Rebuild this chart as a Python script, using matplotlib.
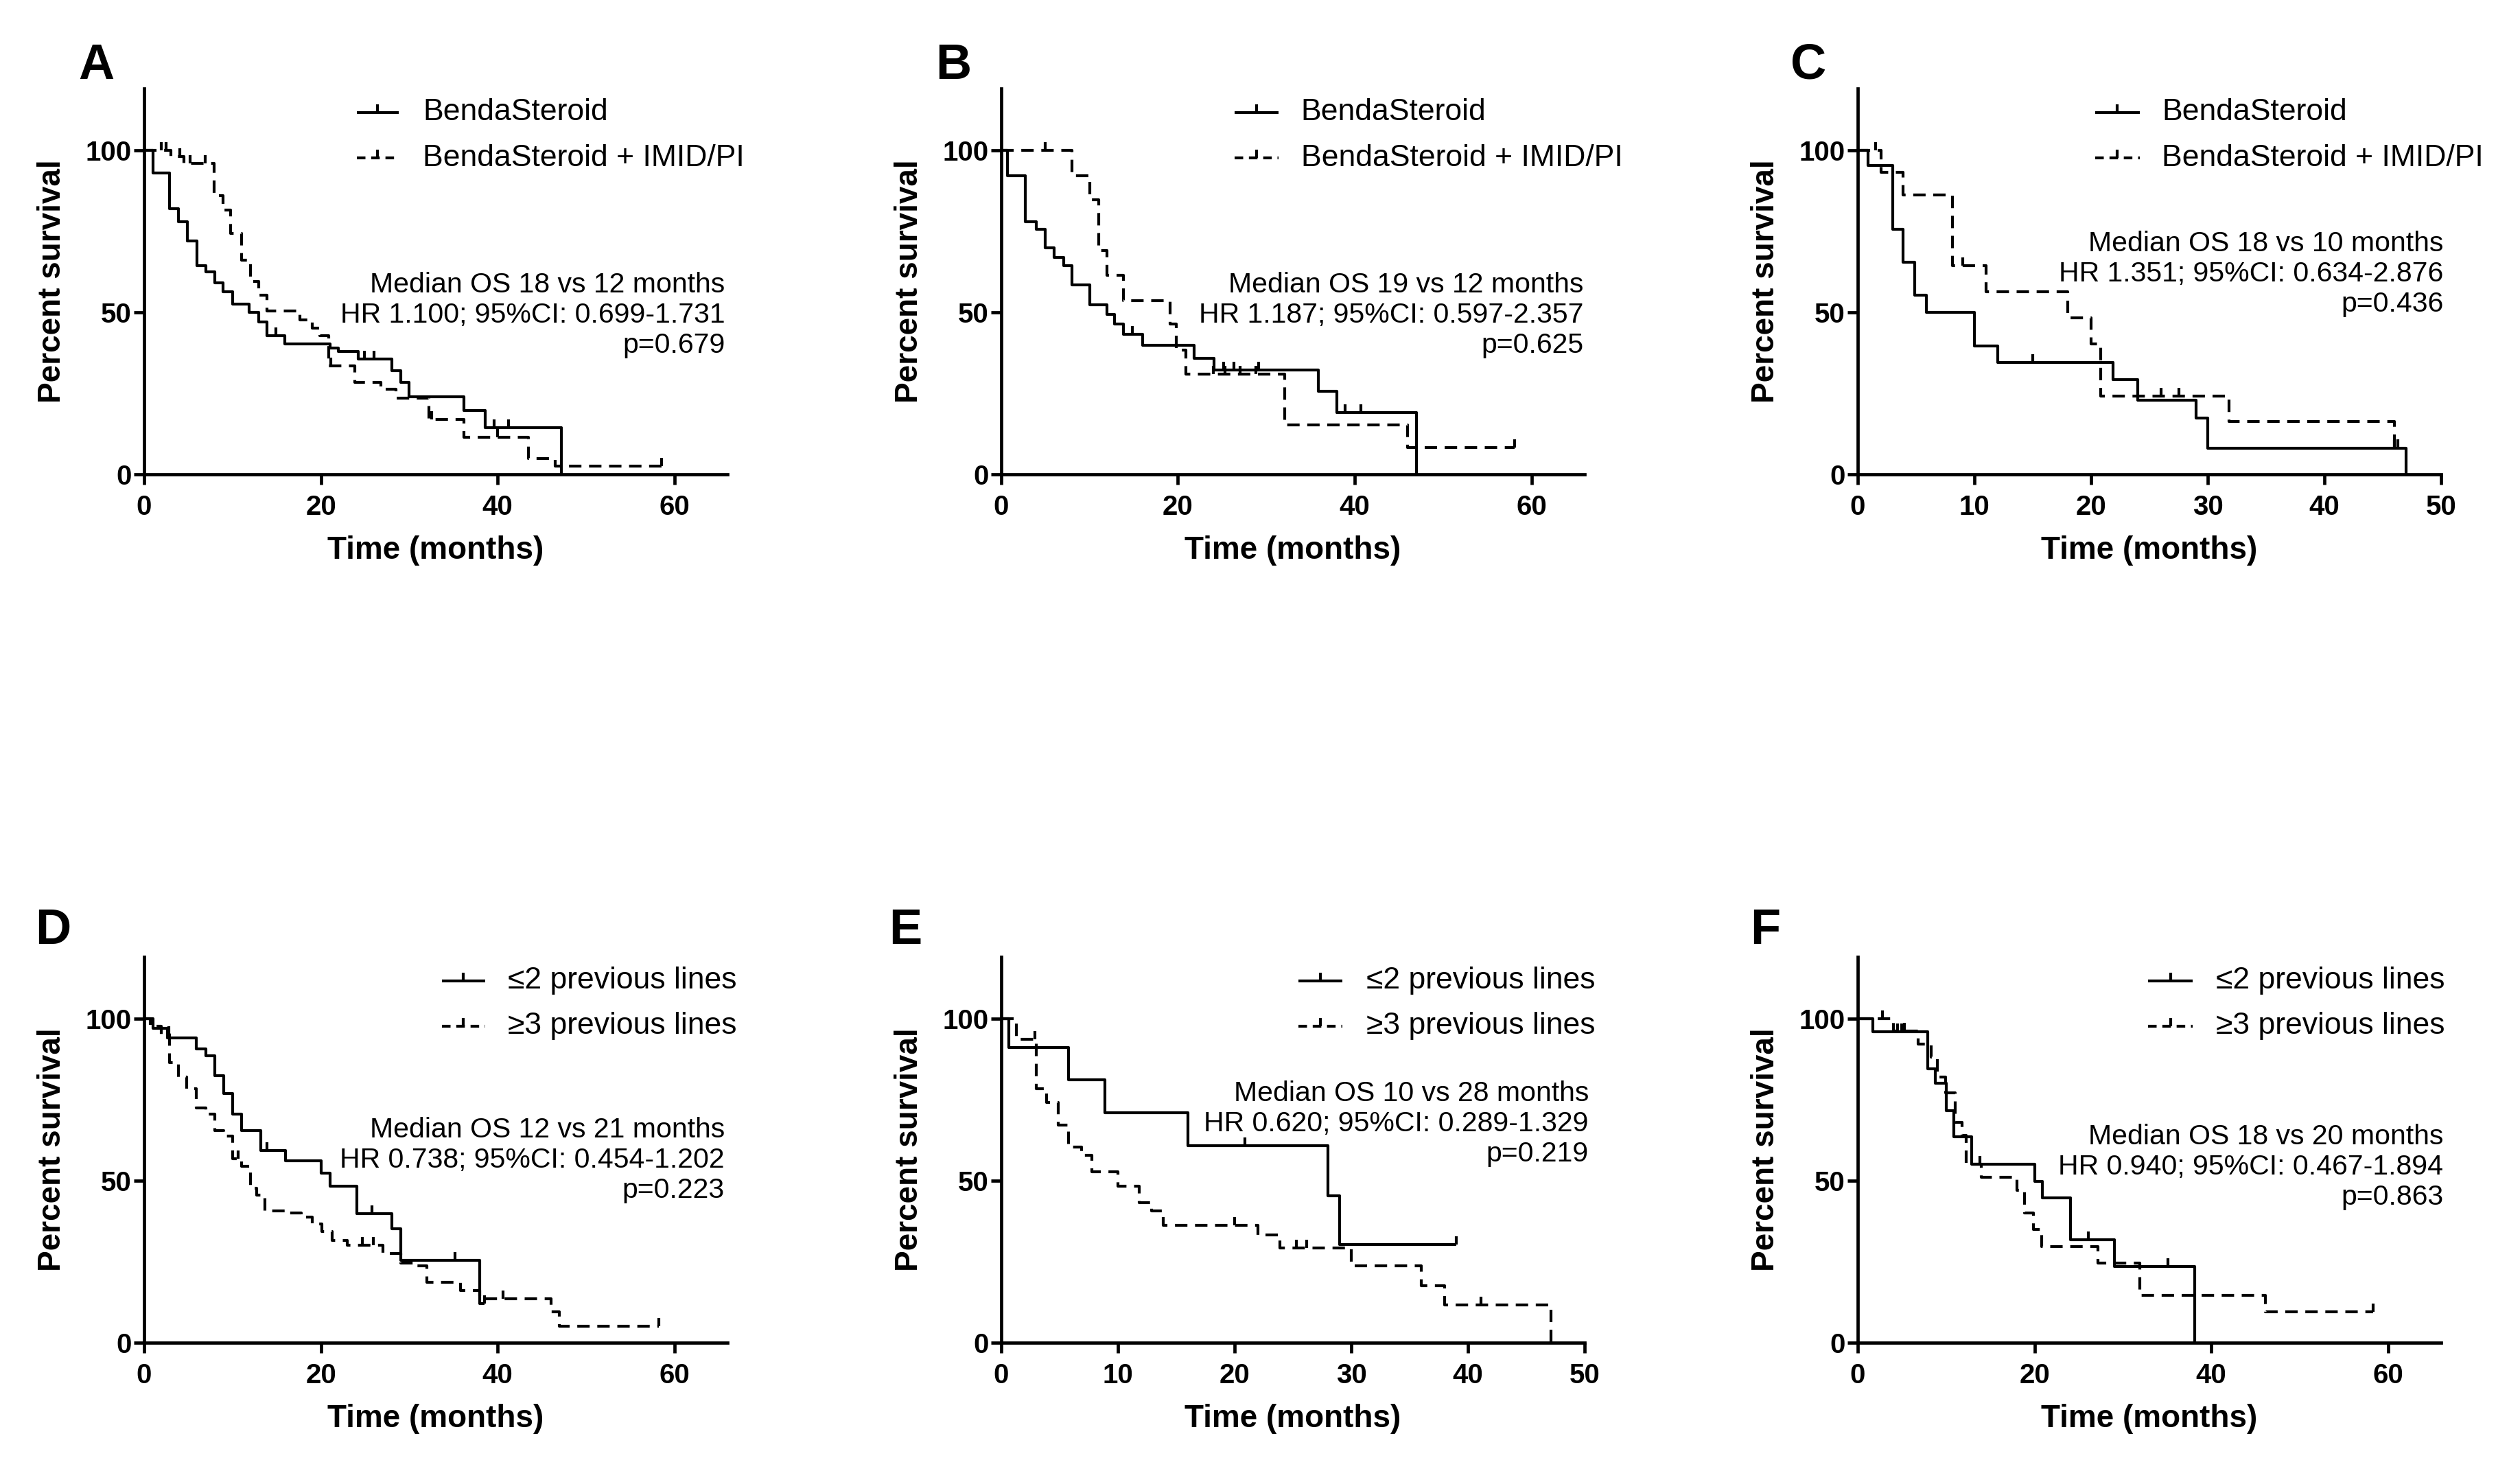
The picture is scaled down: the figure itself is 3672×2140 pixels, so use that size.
import numpy as np
import matplotlib.pyplot as plt
from matplotlib.path import Path

plt.rcParams['font.family'] = ['Liberation Sans', 'DejaVu Sans']
plt.rcParams['lines.scale_dashes'] = False

# --- Kaplan-Meier values (months, percent survival) ---
# A: all patients
a1_t = [1.0, 2.85, 3.9, 4.9, 6.0, 7.0, 8.0, 8.9, 10.0, 11.9, 13.0, 13.9, 15.9, 21.0, 22.0, 24.2, 28.0, 29.0, 30.0, 36.2, 38.6, 47.2]
a1_s = [93, 82, 78, 72, 64.5, 62.4, 59, 56.4, 52.5, 50, 47, 42.7, 40.2, 39, 38, 35.6, 32, 28.5, 24, 19.7, 14.5, 0]
a1_c = [14.9, 24.9, 26.0, 39.6, 41.2]
a1_end = 47.2
a2_t = [3.0, 4.5, 7.9, 8.9, 9.8, 11.0, 12.0, 13.0, 13.9, 17.6, 19.0, 19.9, 20.9, 23.8, 26.8, 28.5, 32.2, 36.2, 43.5, 46.5]
a2_s = [98, 96, 86, 81.5, 74.4, 66, 59.6, 55.4, 50.4, 47.6, 45.1, 42.7, 33.5, 28.5, 26.2, 23.5, 17, 11.5, 5, 2.5]
a2_c = [1.9, 2.5, 4.0, 5.2, 6.9, 21.1, 32.5, 40.0, 58.5]
a2_end = 58.5

# B
b1_t = [0.7, 2.7, 4.0, 5.0, 6.0, 7.1, 8.0, 10.0, 12.0, 12.8, 13.8, 16.0, 21.8, 24.1, 35.9, 38.0, 47.0]
b1_s = [92.2, 78, 75.6, 70, 67, 64.5, 58.5, 52.4, 49.4, 46.4, 43.3, 39.8, 35.8, 32.3, 25.7, 19.2, 0]
b1_c = [14.8, 25.2, 26.3, 29.1, 38.9, 40.7]
b1_end = 47.0
b2_t = [8.0, 10.0, 11.0, 12.0, 13.8, 19.1, 19.8, 20.9, 32.1, 46.0]
b2_s = [92.2, 84.7, 69, 61.5, 53.6, 46.4, 38.4, 30.9, 15.2, 8.2]
b2_c = [5.0, 24.0, 25.3, 27.0, 28.8, 58.1]
b2_end = 58.1

# C
c1_t = [0.9, 3.0, 3.9, 4.9, 5.9, 10.0, 12.0, 21.9, 24.0, 29.0, 30.0, 47.0]
c1_s = [95.3, 75.6, 65.5, 55.4, 50, 39.7, 34.6, 29.2, 22.9, 17.3, 8.1, 0]
c1_c = [15.0, 46.0]
c1_end = 47.0
c2_t = [2.0, 3.9, 8.1, 11.0, 18.0, 20.0, 20.8, 31.8, 46.0]
c2_s = [93.2, 86.2, 64.5, 56.4, 48.4, 40.3, 24.2, 16.3, 8.2]
c2_c = [1.5, 9.0, 26.0, 27.5, 46.3]
c2_end = 46.3

# D: <=2 vs >=3 previous lines
d1_t = [1.0, 2.6, 5.9, 7.0, 8.0, 9.0, 10.0, 11.0, 13.2, 16.0, 20.0, 21.0, 24.1, 28.0, 29.0, 38.0]
d1_s = [97, 94, 90.5, 88.4, 82.4, 76.9, 70.4, 65.3, 59.3, 56, 52.3, 48.2, 39.7, 35.2, 25.3, 12.1]
d1_c = [13.9, 25.8, 35.2, 38.5]
d1_end = 38.5
d2_t = [0.7, 1.9, 2.9, 3.9, 4.8, 5.9, 7.0, 8.0, 9.0, 10.0, 11.0, 12.0, 12.7, 13.7, 16.0, 17.8, 19.0, 20.1, 21.3, 23.0,
        27.0, 29.0, 30.4, 32.0, 35.8, 38.0, 46.0, 47.0]
d2_s = [97.5, 95, 86.4, 82, 78.4, 72.4, 70.4, 65.3, 63.8, 56.8, 54.3, 47.7, 45.6, 40.6, 40, 38.7, 36.7, 34.2, 31.6, 30.1,
        27.6, 24.6, 23.6, 18.6, 16.1, 13.6, 9.5, 5.0]
d2_c = [2.8, 10.6, 24.7, 25.9, 40.6, 58.2]
d2_end = 58.2

# E
e1_t = [0.65, 5.8, 8.9, 16.0, 28.0, 29.0]
e1_s = [91, 81, 71, 60.8, 45.3, 30.2]
e1_c = [20.9, 39.0]
e1_end = 39.0
e2_t = [1.3, 3.0, 3.9, 4.9, 5.8, 6.9, 7.8, 10.0, 11.8, 12.9, 13.9, 22.0, 23.9, 30.0, 36.0, 38.0, 47.1]
e2_s = [93.5, 78.4, 74, 67, 60.3, 57.8, 52.8, 48.2, 43.2, 40.7, 36.2, 33.2, 29.2, 23.6, 17.6, 11.6, 0]
e2_c = [2.9, 20.0, 25.3, 26.2, 41.1]
e2_end = 47.1

# F
f1_t = [1.7, 7.9, 8.8, 10.0, 10.9, 12.9, 20.0, 20.9, 24.1, 29.0, 38.1]
f1_s = [95.8, 84.5, 80, 71.5, 63.5, 55, 49.7, 44.7, 31.7, 23.4, 0]
f1_c = [4.5, 5.0, 13.8, 26.1, 35.1]
f1_end = 38.1
f2_t = [4.0, 6.8, 8.3, 9.0, 9.9, 11.0, 11.8, 12.3, 14.0, 18.0, 18.9, 19.9, 20.8, 27.2, 31.9, 46.1]
f2_s = [96, 92, 88, 82, 77, 68, 64, 55, 51, 47, 40, 35, 29.6, 24.6, 14.6, 9.5]
f2_c = [2.8, 5.3, 58.3]
f2_end = 58.3

letters = ['A', 'B', 'C', 'D', 'E', 'F']
groups_top = ['BendaSteroid', 'BendaSteroid + IMID/PI']
groups_bottom = ['\u22642 previous lines', '\u22653 previous lines']
notes = [
    'Median OS 18 vs 12 months\nHR 1.100; 95%CI: 0.699-1.731\np=0.679',
    'Median OS 19 vs 12 months\nHR 1.187; 95%CI: 0.597-2.357\np=0.625',
    'Median OS 18 vs 10 months\nHR 1.351; 95%CI: 0.634-2.876\np=0.436',
    'Median OS 12 vs 21 months\nHR 0.738; 95%CI: 0.454-1.202\np=0.223',
    'Median OS 10 vs 28 months\nHR 0.620; 95%CI: 0.289-1.329\np=0.219',
    'Median OS 18 vs 20 months\nHR 0.940; 95%CI: 0.467-1.894\np=0.863',
]
x_max = [66, 66, 50, 66, 50, 66]

curves = [
    [(a1_t, a1_s, a1_c, a1_end), (a2_t, a2_s, a2_c, a2_end)],
    [(b1_t, b1_s, b1_c, b1_end), (b2_t, b2_s, b2_c, b2_end)],
    [(c1_t, c1_s, c1_c, c1_end), (c2_t, c2_s, c2_c, c2_end)],
    [(d1_t, d1_s, d1_c, d1_end), (d2_t, d2_s, d2_c, d2_end)],
    [(e1_t, e1_s, e1_c, e1_end), (e2_t, e2_s, e2_c, e2_end)],
    [(f1_t, f1_s, f1_c, f1_end), (f2_t, f2_s, f2_c, f2_end)],
]

# --- layout (axes fractions) ---
lefts = [0.0572, 0.3973, 0.7372]
bottoms = [0.677, 0.086]
w, h = 0.2315, 0.2627
leg_x = [(0.365, 0.436, 0.478), (0.40, 0.475, 0.514), (0.407, 0.483, 0.521),
         (0.51, 0.585, 0.624), (0.509, 0.585, 0.626), (0.498, 0.574, 0.614)]
note_xy = [(0.996, 0.413), (0.998, 0.413), (1.004, 0.52), (0.995, 0.473), (1.007, 0.567), (1.004, 0.456)]
letter_xy = [(-0.082, 1.059), (-0.082, 1.059), (-0.085, 1.059), (-0.156, 1.068), (-0.164, 1.068), (-0.159, 1.068)]

tick_mark = Path([(0, 0), (0, 1)], [Path.MOVETO, Path.LINETO])
LW = 3.0
DASH = (13, 8)


def surv_at(times, surv, t):
    vals = [100] + list(surv)
    return vals[np.searchsorted(times, t, side='right')]


fig = plt.figure(figsize=(36.72, 21.40), dpi=100)

for i in range(6):
    ax = fig.add_axes([lefts[i % 3], bottoms[i // 3], w, h])
    for j, (tt, ss, cc, end) in enumerate(curves[i]):
        xs = [0] + tt + [end]
        ys = [100] + ss + [ss[-1]]
        line, = ax.plot(xs, ys, drawstyle='steps-post', color='black', lw=LW,
                        solid_capstyle='butt', clip_on=False)
        if j == 1:
            line.set_dashes(DASH)
        cy = [surv_at(tt, ss, c) for c in cc]
        ax.plot(cc, cy, ls='none', marker=tick_mark, ms=17, mew=LW, color='black', clip_on=False)

    ax.set_xlim(0, x_max[i])
    ax.set_ylim(0, 119)
    ax.set_xticks(np.arange(0, 61, 20) if x_max[i] > 50 else np.arange(0, 51, 10))
    ax.set_yticks([0, 50, 100])
    for s in ['top', 'right']:
        ax.spines[s].set_visible(False)
    for s in ['left', 'bottom']:
        ax.spines[s].set_linewidth(3.4)
    ax.tick_params(axis='both', direction='out', length=11, width=3.4, labelsize=29)
    ax.tick_params(axis='x', pad=10)
    ax.tick_params(axis='y', pad=2)
    for lbl in ax.get_xticklabels() + ax.get_yticklabels():
        lbl.set_fontweight('bold')

    ax.set_xlabel('Time (months)', fontsize=33, fontweight='bold')
    ax.xaxis.set_label_coords(0.5, -0.158)
    ax.set_ylabel('Percent survival', fontsize=33, fontweight='bold')
    ax.yaxis.set_label_coords(-0.132, 0.5)

    # legend drawn by hand: line sample with censor tick
    names = groups_top if i < 3 else groups_bottom
    x0, x1, xt = leg_x[i]
    for j, (name, yrow) in enumerate(zip(names, [0.938, 0.82])):
        ln, = ax.plot([x0, x1], [yrow, yrow], transform=ax.transAxes, color='black',
                      lw=LW, clip_on=False, solid_capstyle='butt')
        if j == 1:
            ln.set_dashes((9, 6))
        ax.plot([(x0 + x1) / 2], [yrow], transform=ax.transAxes, ls='none', marker=tick_mark,
                ms=17, mew=LW, color='black', clip_on=False)
        ax.text(xt, yrow, name, transform=ax.transAxes, fontsize=32, ha='left', va='center')

    nx, ny = note_xy[i]
    ax.text(nx, ny, notes[i], transform=ax.transAxes, fontsize=29.5, ha='right', va='center',
            multialignment='right', linespacing=1.2)

    lx, ly = letter_xy[i]
    ax.text(lx, ly, letters[i], transform=ax.transAxes, fontsize=52, fontweight='bold',
            ha='center', va='center')

fig.savefig('out.png', dpi=100)
